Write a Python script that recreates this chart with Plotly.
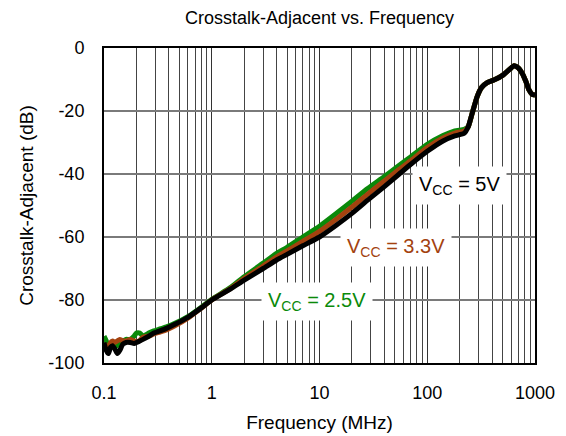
import plotly.graph_objects as go
import math

freq_mhz = [0.1, 0.105, 0.11, 0.115, 0.12, 0.126, 0.133, 0.14, 0.15, 0.16, 0.175, 0.19, 0.2,
            0.215, 0.23, 0.26, 0.29, 0.33, 0.38, 0.45, 0.6, 0.8, 1, 1.5, 2, 3, 4, 5, 7, 10,
            14, 20, 28, 40, 55, 70, 100, 140, 180, 220, 240, 260, 290, 320, 360, 420, 500,
            580, 640, 700, 760, 820, 880, 940, 1000]

xt_5v = [-93.5, -96, -97, -95, -94.5, -95.5, -97, -96, -94, -93.5, -93.5, -93.8, -93.5,
         -93, -92.5, -91.5, -90.5, -89.8, -89, -87.8, -85.5, -82.5, -80, -76.5, -73.7, -70,
         -67.3, -65.5, -62.8, -60, -56.5, -52.5, -48.3, -44, -40, -37, -32.8, -29.5, -27.9,
         -27.1, -25, -21, -15.5, -12.5, -11, -10.1, -8.7, -6.8, -5.6, -6.3, -8, -10.5,
         -13.3, -14.7, -14.9]

xt_3v3 = [-94, -94.5, -95, -93.5, -93, -93.5, -93, -92.5, -93, -93, -92.5, -93, -93.2,
          -92.8, -91.8, -91.5, -90.8, -90.2, -89.5, -88.3, -85.8, -82.6, -80, -76.3, -73.2,
          -69.2, -66.3, -64.4, -61.4, -58.2, -54.6, -50.5, -46.4, -42.2, -38.5, -35.8,
          -31.6, -28.6, -27, -26.4, -25, -21, -15.5, -12.5, -11, -10.1, -8.7, -6.8, -5.6,
          -6.3, -8, -10.5, -13.3, -14.7, -14.9]

xt_2v5 = [-91.5, -93, -95.5, -94.5, -93.5, -94, -94.5, -93.5, -93, -92.5, -92.5, -91.5,
          -90.5, -90.5, -91.5, -90.5, -89.8, -89.2, -88.5, -87.5, -85.3, -82.3, -79.8, -76,
          -72.6, -68.3, -65.2, -63.3, -60, -56.6, -52.8, -48.6, -44.6, -40.8, -37.2, -34.6,
          -30.6, -27.8, -26.3, -25.8, -25, -21, -15.5, -12.5, -11, -10.1, -8.7, -6.8, -5.6,
          -6.3, -8, -10.5, -13.3, -14.7, -14.9]

x_tick_vals = [0.1, 1, 10, 100, 1000]
x_tick_text = ["0.1", "1", "10", "100", "1000"]
y_tick_vals = [0, -20, -40, -60, -80, -100]
y_tick_text = ["0", "-20", "-40", "-60", "-80", "-100"]

GREEN = "#0a8a0a"
BROWN = "#a3420f"
BLACK = "#000000"
FONT = "Arial, Liberation Sans, sans-serif"

fig = go.Figure()
for vals, col, w in [(xt_2v5, GREEN, 5), (xt_3v3, BROWN, 5), (xt_5v, BLACK, 5)]:
    fig.add_trace(go.Scatter(x=freq_mhz, y=vals, mode="lines",
                             line=dict(color=col, width=w, shape="spline", smoothing=0.5),
                             showlegend=False, hoverinfo="skip"))

minor_vals = [m * 10 ** e for e in range(-1, 3) for m in range(2, 10)]

fig.update_layout(
    width=566, height=436,
    margin=dict(l=96, r=39, t=40, b=81, autoexpand=False),
    paper_bgcolor="white", plot_bgcolor="white",
    font=dict(family=FONT, size=18, color="black"),
    title=dict(text="Crosstalk-Adjacent vs. Frequency", x=0.5, xref="paper",
               xanchor="center", y=1 - 10 / 436, yref="container", yanchor="middle",
               automargin=False,
               font=dict(size=18, family=FONT, color="black")),
)

fig.update_xaxes(
    type="log", range=[-1, 3], automargin=False,
    tickmode="array", tickvals=x_tick_vals, ticktext=x_tick_text,
    showgrid=True, gridcolor="#333333", gridwidth=1,
    minor=dict(tickmode="array", tickvals=minor_vals, showgrid=True,
               gridcolor="#444444", gridwidth=1, ticks=""),
    showline=True, linecolor="black", linewidth=2, mirror=True,
    ticks="", ticklabelstandoff=12,
    title=dict(text="Frequency (MHz)", font=dict(size=19, family=FONT), standoff=14),
    tickfont=dict(size=18, family=FONT, color="black"),
    zeroline=False,
)
fig.update_yaxes(
    range=[-100, 0], automargin=False,
    tickmode="array", tickvals=y_tick_vals, ticktext=y_tick_text,
    showgrid=True, gridcolor="#7a7a7a", gridwidth=1.5,
    showline=True, linecolor="black", linewidth=2, mirror=True,
    ticks="", ticklabelstandoff=14,
    title=dict(text="Crosstalk-Adjacent (dB)", font=dict(size=19, family=FONT), standoff=10),
    tickfont=dict(size=18, family=FONT, color="black"),
    zeroline=False,
)

labels = [
    ("V<sub>CC</sub> = 5V", 201, -43.5, BLACK),
    ("V<sub>CC</sub> = 3.3V", 51, -63.2, BROWN),
    ("V<sub>CC</sub> = 2.5V", 9.5, -80.6, GREEN),
]
for txt, fx, fy, col in labels:
    fig.add_annotation(x=math.log10(fx), y=fy, xref="x", yref="y", text=txt,
                       showarrow=False, bgcolor="white", borderpad=6,
                       font=dict(size=20, family=FONT, color=col))

fig.write_html("out.html")
